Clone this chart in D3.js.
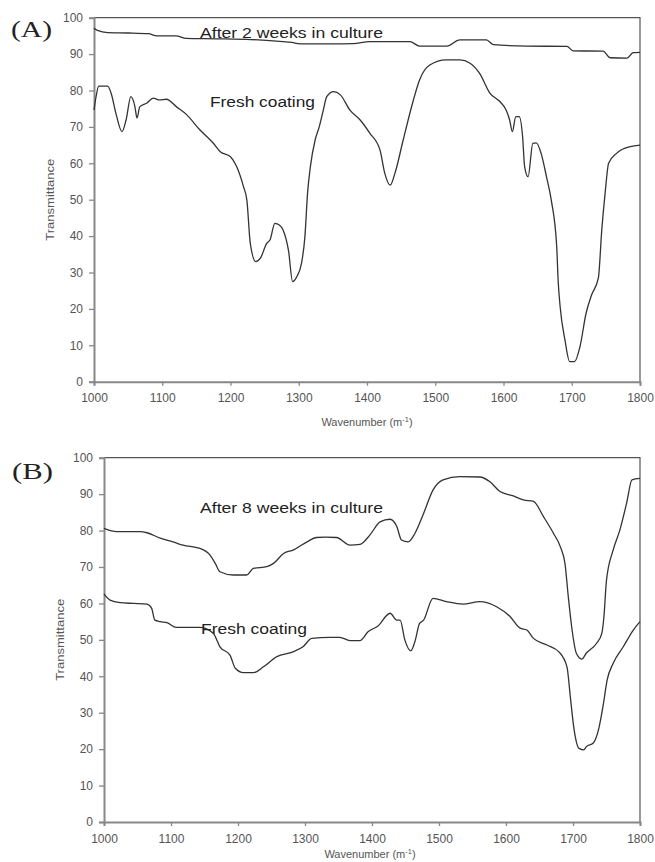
<!DOCTYPE html>
<html>
<head>
<meta charset="utf-8">
<script src="https://cdn.jsdelivr.net/npm/d3@7"></script>
<style>
  html, body { margin: 0; padding: 0; background: #fff; }
  svg { display: block; font-family: "Liberation Sans", Arial, sans-serif; }
</style>
</head>
<body>
<svg id="chart" width="655" height="862"></svg>
<script>
// FTIR spectra: wavenumber (x) and transmittance (y) for each trace
const yTicks = [0, 10, 20, 30, 40, 50, 60, 70, 80, 90, 100];
const xTicks = [1000, 1100, 1200, 1300, 1400, 1500, 1600, 1700, 1800];

// Panel A – after 2 weeks in culture
const waveA2w  = [1000,1005,1020,1050,1080,1092,1120,1135,1180,1230,1272,1290,1302,1346,1380,1404,1463,1477,1517,1536,1575,1585,1634,1693,1702,1746,1756,1781,1790,1800];
const transA2w = [97.1,96.5,95.9,95.8,95.6,95.0,95.0,94.3,94.2,94.0,93.5,93.2,92.8,92.8,92.9,93.4,93.4,92.2,92.2,93.9,93.9,92.6,92.2,92.1,90.9,90.8,89.0,88.9,90.4,90.5];

// Panel A – fresh coating
const waveAFresh  = [1000,1003,1007,1020,1025,1032,1041,1047,1054,1060,1063,1067,1077,1087,1096,1106,1121,1136,1155,1175,1185,1200,1209,1219,1224,1229,1237,1244,1253,1258,1265,1272,1277,1285,1291,1297,1304,1309,1313,1317,1324,1330,1336,1341,1351,1361,1375,1390,1404,1419,1426,1434,1441,1453,1468,1477,1492,1516,1536,1551,1565,1580,1595,1604,1609,1613,1618,1623,1628,1631,1636,1643,1648,1655,1663,1670,1678,1680,1683,1690,1697,1704,1712,1721,1729,1739,1744,1749,1754,1766,1786,1800];
const transAFresh = [74.6,78.3,81.2,81.2,79.3,73.8,68.7,71.9,78.3,75.5,72.4,75.5,76.5,77.9,77.4,77.6,75.5,73.3,69.2,65.5,63.2,61.8,59.1,53.6,49.9,38.0,33.0,34.0,38.0,39.0,43.5,43.0,41.7,36.0,27.5,28.8,32.5,39.8,52.0,59.0,66.4,70.0,74.6,78.3,79.7,78.8,74.6,71.9,68.3,63.7,57.3,54.0,57.3,66.4,77.4,82.9,87.0,88.4,88.4,87.5,84.7,79.3,76.9,74.6,71.9,68.7,72.8,72.8,67.3,59.0,56.3,65.5,65.6,62.8,56.3,49.9,37.0,28.0,20.6,11.5,5.5,5.5,9.6,18.8,23.8,28.5,41.7,52.0,60.0,62.8,64.6,65.0];

// Panel B – after 8 weeks in culture
const waveB8w  = [1000,1019,1054,1064,1084,1103,1118,1143,1158,1166,1173,1193,1213,1223,1243,1253,1268,1283,1303,1317,1330,1347,1367,1382,1397,1412,1427,1437,1444,1454,1464,1477,1491,1506,1531,1561,1576,1591,1611,1626,1641,1656,1671,1681,1688,1693,1698,1705,1713,1720,1735,1743,1746,1750,1760,1770,1780,1788,1800];
const transB8w = [80.6,79.7,79.7,79.4,77.9,76.9,76.0,75.1,73.3,71.0,68.7,67.8,67.8,69.6,70.1,71.0,73.7,74.7,76.9,78.1,78.2,78.1,76.0,76.2,78.8,82.4,83.1,81.1,77.4,76.9,79.2,84.7,91.1,93.9,94.8,94.7,93.4,90.7,89.5,88.4,88.0,83.8,79.2,75.6,71.0,61.8,53.6,46.3,44.7,46.4,49.0,51.8,56.0,66.4,74.7,80.2,87.5,93.9,94.3];

// Panel B – fresh coating
const waveBFresh  = [1000,1009,1024,1044,1064,1071,1076,1084,1094,1108,1143,1163,1173,1188,1196,1208,1223,1238,1258,1282,1297,1310,1337,1352,1367,1382,1394,1409,1427,1437,1442,1449,1458,1464,1471,1477,1491,1511,1536,1561,1586,1606,1621,1631,1641,1661,1679,1691,1696,1701,1709,1716,1720,1730,1738,1745,1751,1760,1775,1790,1800];
const transBFresh = [62.6,60.9,60.2,60.0,59.8,58.7,55.4,55.0,54.7,53.4,53.4,51.8,48.1,45.8,42.2,41.0,41.0,42.6,45.4,46.7,48.1,50.4,50.7,50.7,49.8,49.8,52.2,53.8,57.3,55.4,55.4,50.0,47.0,49.5,54.5,55.4,61.4,60.5,59.8,60.5,59.1,56.4,53.2,52.7,50.4,48.6,46.7,42.6,34.4,26.2,20.2,19.8,20.7,21.6,25.3,32.0,39.0,43.6,48.1,52.7,55.0];

const svg = d3.select("#chart");
const zip = (xs, ys) => xs.map((x, i) => [x, ys[i]]);

function drawPanel(cfg) {
  const x = d3.scaleLinear().domain([1000, 1800]).range([cfg.left, cfg.right]);
  const y = d3.scaleLinear().domain([0, 100]).range([cfg.bottom, cfg.top]);
  const g = svg.append("g");

  // top and right frame
  g.append("path")
    .attr("d", `M${cfg.left},${cfg.top}H${cfg.right}V${cfg.bottom}`)
    .attr("fill", "none").attr("stroke", "#555").attr("stroke-width", 1.2);

  const yAxis = g.append("g")
    .attr("transform", `translate(${cfg.left},0)`)
    .call(d3.axisLeft(y).tickValues(yTicks).tickSize(5).tickPadding(6).tickFormat(d3.format("d")));
  const xAxis = g.append("g")
    .attr("transform", `translate(0,${cfg.bottom})`)
    .call(d3.axisBottom(x).tickValues(xTicks).tickSize(4).tickPadding(8).tickFormat(d3.format("d")));

  [yAxis, xAxis].forEach(a => {
    a.select(".domain").attr("stroke", "#888").attr("stroke-width", 2);
    a.selectAll(".tick line").attr("stroke", "#888").attr("stroke-width", 1.3);
    a.selectAll(".tick text").attr("fill", "#555").attr("font-size", 12)
      .attr("font-family", "'Liberation Sans', Arial, sans-serif");
  });

  const line = d3.line().curve(d3.curveMonotoneX).x(d => x(d[0])).y(d => y(d[1]));
  cfg.series.forEach(s => {
    g.append("path")
      .datum(zip(s.wave, s.trans))
      .attr("d", line)
      .attr("fill", "none")
      .attr("stroke", "#333")
      .attr("stroke-width", 1.3)
      .attr("stroke-linejoin", "round");
  });

  // panel letter
  g.append("text")
    .attr("x", cfg.letterX).attr("y", cfg.letterY)
    .attr("font-family", "'Liberation Serif', 'Times New Roman', serif")
    .attr("font-size", 23).attr("fill", "#222")
    .attr("textLength", 41).attr("lengthAdjust", "spacingAndGlyphs")
    .text(cfg.letter);

  // trace labels
  cfg.labels.forEach(l => {
    g.append("text")
      .attr("x", l.x).attr("y", l.y)
      .attr("font-size", 15.5).attr("fill", "#222")
      .attr("textLength", l.len).attr("lengthAdjust", "spacingAndGlyphs")
      .text(l.text);
  });

  // axis titles
  g.append("text")
    .attr("transform", `translate(${cfg.yTitleX},${(cfg.top + cfg.bottom) / 2}) rotate(-90)`)
    .attr("text-anchor", "middle")
    .attr("font-size", 11).attr("fill", "#555")
    .attr("textLength", 82).attr("lengthAdjust", "spacingAndGlyphs")
    .text("Transmittance");

  const xt = g.append("text")
    .attr("x", cfg.xTitleX).attr("y", cfg.xTitleY)
    .attr("text-anchor", "middle")
    .attr("font-size", 11).attr("fill", "#555");
  xt.append("tspan").text("Wavenumber (m");
  xt.append("tspan").attr("dy", -4).attr("font-size", 7.5).text("-1");
  xt.append("tspan").attr("dy", 4).text(")");
}

drawPanel({
  left: 94, right: 640, top: 17.7, bottom: 381.7,
  letter: "(A)", letterX: 11, letterY: 37,
  yTitleX: 54, xTitleX: 367, xTitleY: 426,
  series: [
    { wave: waveA2w, trans: transA2w },
    { wave: waveAFresh, trans: transAFresh }
  ],
  labels: [
    { text: "After 2 weeks in culture", x: 200, y: 38, len: 183 },
    { text: "Fresh coating", x: 210, y: 107, len: 105 }
  ]
});

drawPanel({
  left: 104, right: 640, top: 457.7, bottom: 822,
  letter: "(B)", letterX: 12, letterY: 479,
  yTitleX: 64, xTitleX: 370, xTitleY: 858,
  series: [
    { wave: waveB8w, trans: transB8w },
    { wave: waveBFresh, trans: transBFresh }
  ],
  labels: [
    { text: "After 8 weeks in culture", x: 200, y: 513, len: 183 },
    { text: "Fresh coating", x: 201, y: 634, len: 106 }
  ]
});
</script>
</body>
</html>
